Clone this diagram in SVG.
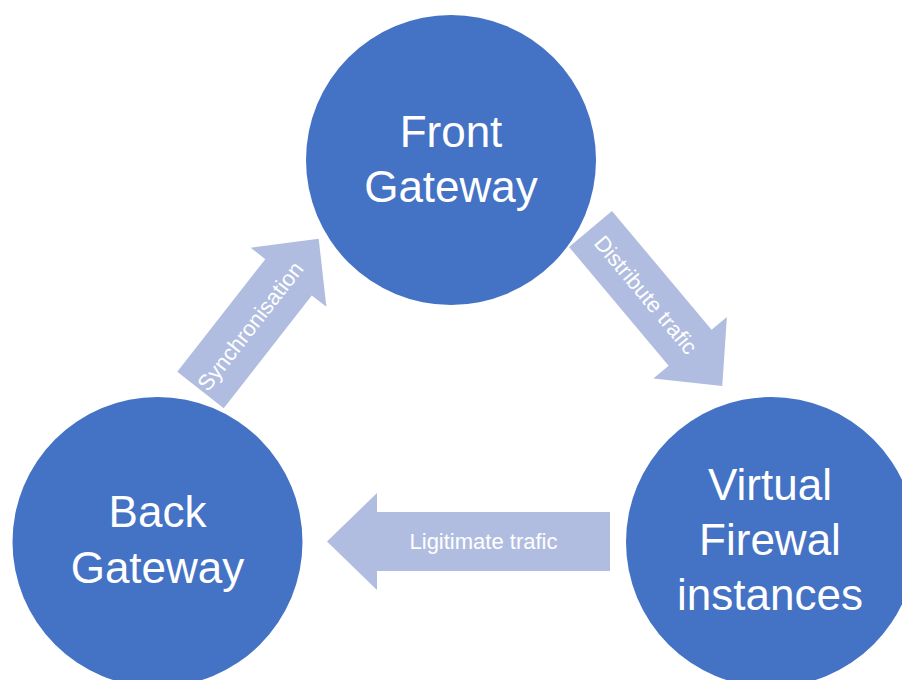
<svg xmlns="http://www.w3.org/2000/svg" width="902" height="680" viewBox="0 0 902 680">
<style>
.node{fill:#4472C4}
.nt{font-family:"Liberation Sans",Arial,sans-serif;font-size:44px;fill:#FFFFFF;text-anchor:middle}
.arr{fill:#B1BDE0}
.at{font-family:"Liberation Sans",Arial,sans-serif;font-size:22px;fill:#FFFFFF;text-anchor:middle}
</style>
<rect width="902" height="680" fill="#FFFFFF"/>
<g id="front-gateway">
<circle class="node" cx="451" cy="160" r="145"/>
<text class="nt" x="451" y="147">Front</text>
<text class="nt" x="451" y="202">Gateway</text>
</g>
<g id="back-gateway">
<circle class="node" cx="157.5" cy="542" r="145"/>
<text class="nt" x="157.5" y="527">Back</text>
<text class="nt" x="157.5" y="583">Gateway</text>
</g>
<g id="virtual-firewall">
<circle class="node" cx="771" cy="542" r="145"/>
<text class="nt" x="770" y="500">Virtual</text>
<text class="nt" x="770" y="555">Firewal</text>
<text class="nt" x="770" y="610">instances</text>
</g>
<g id="connectors">
<g id="sync" transform="translate(200.5,390) rotate(-52)">
<path class="arr" d="M0,-29.5 L143,-29.5 L143,-48 L192,0 L143,48 L143,29.5 L0,29.5 Z"/>
<text class="at" x="81" y="7.5">Synchronisation</text>
</g>
<g id="distribute" transform="translate(590.5,229) rotate(50)">
<path class="arr" d="M0,-28 L155,-28 L155,-48 L205,0 L155,48 L155,28 L0,28 Z"/>
<text class="at" x="86" y="7.5">Distribute trafic</text>
</g>
<g id="legit">
<path class="arr" d="M610,512 L377,512 L377,493 L327,541.5 L377,590 L377,571 L610,571 Z"/>
<text class="at" x="483.5" y="548.5">Ligitimate trafic</text>
</g>
</g>
</svg>
